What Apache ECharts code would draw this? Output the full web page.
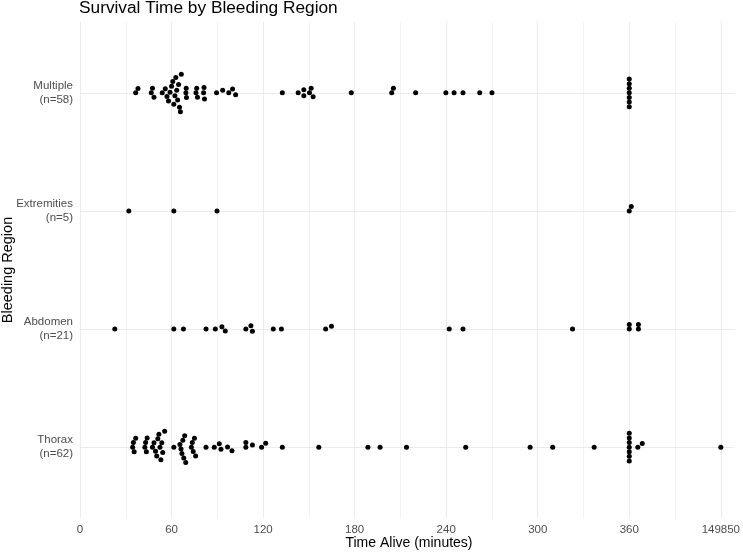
<!DOCTYPE html>
<html><head><meta charset="utf-8">
<script src="https://cdn.jsdelivr.net/npm/echarts@6/dist/echarts.min.js"></script>
<style>html,body{margin:0;padding:0;background:#fff}#c{width:743px;height:552px}</style>
</head><body><div id="c"></div>
<script>
// ---- data ----
const categories = ['Thorax', 'Abdomen', 'Extremities', 'Multiple'];
const counts = [62, 21, 5, 58];
const thorax = [34.5, 35, 35.5, 36.5, 42.5, 43, 43.5, 44,
  47.5, 48.5, 49.5, 50.3, 51, 51.7, 52.4, 53, 53.6, 54.2, 55.5,
  61.5, 65.5, 66.2, 66.8, 67.4, 68, 68.6, 69.3, 73, 73.6, 74.2, 75, 75.8,
  82.6, 88, 91.3, 92.4, 96.7, 99.6,
  108.7, 108.7, 113, 119, 121.7,
  132.6, 156.5, 188.7, 196.7, 214, 252.8, 295, 309.8, 337,
  360, 360, 360, 360, 360, 360, 360, 365.6, 368.5, 149850];
const abdomen = [22.8, 61.5, 67.8, 82.6, 88.7, 93, 95.2, 108.7, 112, 113,
  126.7, 132, 161, 164.8, 242, 251, 322.8, 360, 360, 366, 366];
const extremities = [32, 61.5, 89.8, 360, 361.3];
const multiple = [36.5, 38, 46.7, 47.5, 48.5,
  53.9, 55.9, 57, 58, 59, 60, 60.8, 61.5, 62.2, 62.8, 63.4, 64, 64.6, 65.2, 65.8, 66.4, 69.4, 69.6, 69.8,
  76, 76.5, 77, 81, 81.3, 81.6,
  89.5, 93.5, 97.5, 100, 102,
  132.6, 143, 146.7, 146.7, 150.4, 151.5, 152.8,
  177.8, 204.3, 205.4, 220, 239.8, 245.2, 251, 262, 270,
  360, 360, 360, 360, 360, 360, 360];
const xTickValues = [0, 60, 120, 180, 240, 300, 360, 420];
const xTickLabels = ['0', '60', '120', '180', '240', '300', '360', '149850'];
const xGridValues = [0, 30, 60, 90, 120, 150, 180, 210, 240, 270, 300, 330, 360, 390, 420];
const breakAt = 1000; // values above this are drawn at the broken-axis slot
const breakSlot = 420;

// ---- layout ----
const W = 743, H = 552;
const gridL = 80, gridR = 5, gridT = 22, gridB = 34;
const xMin = 0, xMax = 429.1;
const yMin = 0.4, yMax = 4.6;
const pxPerX = (W - gridL - gridR) / (xMax - xMin);
const unitPerPxY = (yMax - yMin) / (H - gridT - gridB);
const SX = 7.5, SY = 4.6; // swarm spacing (px) horizontally / vertically

function pos(v) { return v > breakAt ? breakSlot : v; }

function swarm(vals) {
  const xs = vals.map(v => pos(v) * pxPerX);
  const order = xs.map((x, i) => i).sort((a, b) => xs[a] - xs[b]);
  const off = new Array(xs.length);
  const placed = [];
  for (const i of order) {
    const xi = xs[i];
    const near = placed.filter(j => Math.abs(xs[j] - xi) < SX);
    const cands = [0];
    near.forEach(j => { const r = (xs[j] - xi) / SX; cands.push(off[j] + SY * Math.sqrt(1 - r * r)); });
    near.forEach(j => { const r = (xs[j] - xi) / SX; cands.push(off[j] - SY * Math.sqrt(1 - r * r)); });
    let best = 0, bestAbs = Infinity;
    for (const c of cands) {
      if (Math.abs(c) >= bestAbs - 1e-9) continue;
      const ok = near.every(j => {
        const dx = (xs[j] - xi) / SX, dy = (off[j] - c) / SY;
        return dx * dx + dy * dy >= 1 - 1e-6;
      });
      if (ok) { best = c; bestAbs = Math.abs(c); }
    }
    off[i] = best; placed.push(i);
  }
  return off;
}

const groups = [thorax, abdomen, extremities, multiple];
const points = [];
groups.forEach((vals, gi) => {
  const off = swarm(vals);
  vals.forEach((v, i) => points.push([pos(v), gi + 1 + off[i] * unitPerPxY, v]));
});

const FONT = 'Liberation Sans, Arial, Helvetica, sans-serif';
const chart = echarts.init(document.getElementById('c'), null, { renderer: 'canvas' });
chart.setOption({
  animation: false,
  backgroundColor: '#ffffff',
  grid: { left: gridL, right: gridR, top: gridT, bottom: gridB, containLabel: false },
  xAxis: {
    type: 'value', min: xMin, max: xMax,
    axisLine: { show: false }, axisTick: { show: false }, splitLine: { show: false },
    axisLabel: {
      customValues: xTickValues, color: '#4d4d4d', fontSize: 11.5, fontFamily: FONT, margin: 6,
      formatter: v => { const k = xTickValues.indexOf(v); return k >= 0 ? xTickLabels[k] : ''; }
    }
  },
  yAxis: {
    type: 'value', min: yMin, max: yMax,
    axisLine: { show: false }, axisTick: { show: false }, splitLine: { show: false },
    axisLabel: {
      customValues: [1, 2, 3, 4], color: '#4d4d4d', fontSize: 11.5, fontFamily: FONT, margin: 7,
      lineHeight: 14, align: 'right',
      formatter: v => { const k = Math.round(v) - 1; return categories[k] + '\n(n=' + counts[k] + ')'; }
    }
  },
  graphic: [
    { type: 'text', left: 79, top: 0, style: { text: 'Survival Time by Bleeding Region', fontSize: 17.3, fontFamily: FONT, fill: '#000' } },
    { type: 'text', x: 409, y: 543, style: { text: 'Time Alive (minutes)', fontSize: 14, fontFamily: FONT, fill: '#000', align: 'center', verticalAlign: 'middle' } },
    { type: 'text', x: 8, y: 270, rotation: Math.PI / 2, style: { text: 'Bleeding Region', fontSize: 14.5, fontFamily: FONT, fill: '#000', align: 'center', verticalAlign: 'middle' } }
  ],
  series: [
    {
      type: 'line', data: [], silent: true,
      markLine: {
        silent: true, symbol: 'none', animation: false,
        label: { show: false },
        data: xGridValues.map(v => ({ xAxis: v, lineStyle: { color: '#ebebeb', width: v % 60 === 0 ? 1.1 : 0.6, type: 'solid' } }))
          .concat([1, 2, 3, 4].map(v => ({ yAxis: v, lineStyle: { color: '#ebebeb', width: 1.1, type: 'solid' } })))
      }
    },
    {
      type: 'scatter', data: points, symbolSize: 5, z: 5,
      itemStyle: { color: '#000000', opacity: 1 },
      emphasis: { disabled: true }
    }
  ]
});
</script></body></html>
